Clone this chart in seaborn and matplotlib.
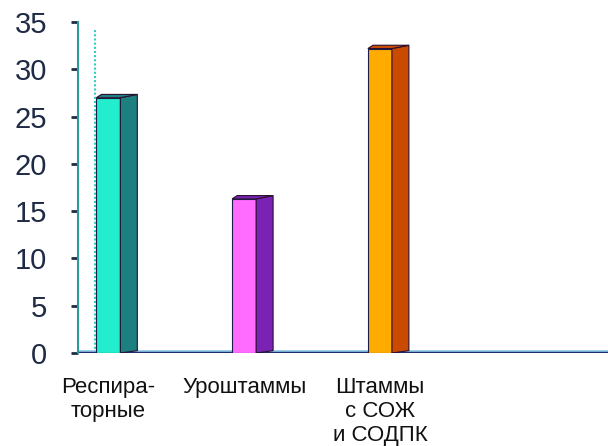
import matplotlib
matplotlib.use('Agg')
from matplotlib import pyplot as plt
from matplotlib.patches import Polygon
import seaborn as sns
import pandas as pd

# Data
categories = ['Респира-\nторные', 'Уроштаммы', 'Штаммы\nс СОЖ\nи СОДПК']
values = [27.0, 16.3, 32.2]
front_colors = ['#22edcc', '#ff6cff', '#ffab00']
side_colors = ['#1c7f80', '#7a22b4', '#c94a00']
y_ticks = [0, 5, 10, 15, 20, 25, 30, 35]


def main():
    sns.set_style('white')
    plt.rcParams['font.family'] = ['Liberation Sans', 'DejaVu Sans']

    fig = plt.figure(figsize=(6.08, 4.46), dpi=100)
    ax = fig.add_axes([0.128, 0.2085, 0.872, 0.742])

    df = pd.DataFrame({'cat': categories, 'val': values})
    bar_w = 0.177
    side_w = 0.125
    sns.barplot(data=df, x='cat', y='val', hue='cat', palette=front_colors,
                saturation=1, width=bar_w, edgecolor='#1a1f4a', linewidth=0.8,
                legend=False, ax=ax, zorder=3)

    # side faces of the pseudo-3D bars
    for i, v in enumerate(values):
        x0 = i + bar_w / 2
        poly = Polygon([(x0, 0), (x0 + side_w, 0.25), (x0 + side_w, v + 0.35), (x0, v)],
                       closed=True, facecolor=side_colors[i], edgecolor='#2a1030',
                       linewidth=0.8, zorder=3)
        ax.add_patch(poly)
        top = Polygon([(i - bar_w / 2, v), (x0, v), (x0 + side_w, v + 0.35),
                       (i - bar_w / 2 + side_w * 0.3, v + 0.35)],
                      closed=True, facecolor=side_colors[i], edgecolor='#2a1030',
                      linewidth=0.8, zorder=3)
        ax.add_patch(top)

    ax.set_xlim(-0.2247, 3.68)
    ax.set_ylim(0, 35)
    ax.set_yticks(y_ticks)
    ax.set_yticklabels([str(t) for t in y_ticks], fontsize=21, color='#1f2a44')
    ax.tick_params(axis='y', length=5, width=2, color='#1f2a44', pad=17, left=True)
    ax.set_xticks(range(len(categories)))
    ax.set_xticklabels(categories, fontsize=16, color='#111111', linespacing=1.2)
    ax.tick_params(axis='x', length=0, pad=17)
    ax.set_xlabel('')
    ax.set_ylabel('')

    for s in ['top', 'right', 'bottom']:
        ax.spines[s].set_visible(False)
    ax.spines['left'].set_color('#2a9a9a')
    ax.spines['left'].set_linestyle((0, (1, 1)))
    ax.spines['left'].set_linewidth(1.5)

    # back wall dotted line and floor
    ax.axvline(-0.1, ymin=0, ymax=0.98, color='#30d0c0', linestyle=(0, (1, 1)),
               linewidth=1.5, zorder=1)
    ax.axhline(0, color='#9ad0f0', linewidth=5, zorder=2)
    ax.axhline(0, color='#1f2f6a', linewidth=2.5, zorder=2)

    plt.savefig('out.png', dpi=100)


if __name__ == "__main__":
    main()
